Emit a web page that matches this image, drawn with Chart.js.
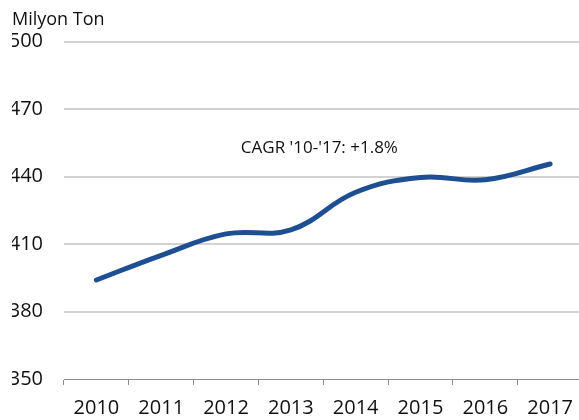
<!DOCTYPE html>
<html>
<head>
<meta charset="utf-8">
<script src="https://cdn.jsdelivr.net/npm/chart.js@4"></script>
<style>
  html, body { margin: 0; padding: 0; background: #fff; overflow: hidden; }
  #wrap { width: 584px; height: 420px; }
</style>
</head>
<body>
<div id="wrap"><canvas id="chart"></canvas></div>
<script>
const years = ['2010', '2011', '2012', '2013', '2014', '2015', '2016', '2017'];
const volumes = [394, 405, 414.5, 416.3, 433, 439.6, 438.6, 445.6];
const yTicks = [350, 380, 410, 440, 470, 500];
const unitLabel = 'Milyon Ton';
const cagrNote = "CAGR '10-'17: +1.8%";

const FONT = 'Open Sans, sans-serif';
const TEXT = '#111111';

const noteLabel = {
    id: 'noteLabel',
    afterDatasetsDraw(chart) {
        const { ctx, scales } = chart;
        ctx.save();
        ctx.font = `17px ${FONT}`;
        ctx.fillStyle = TEXT;
        ctx.textAlign = 'center';
        ctx.textBaseline = 'middle';
        ctx.fillText(cagrNote, scales.x.getPixelForValue(3.44), scales.y.getPixelForValue(452.8));
        ctx.restore();
    }
};

new Chart(document.getElementById('chart'), {
    type: 'line',
    data: {
        labels: years,
        datasets: [{
            data: volumes,
            borderColor: '#1f4f93',
            borderWidth: 5,
            borderCapStyle: 'round',
            tension: 0.4,
            pointRadius: 0,
            fill: false
        }]
    },
    options: {
        responsive: true,
        maintainAspectRatio: false,
        animation: false,
        layout: { padding: { left: 12, right: 0, top: 0, bottom: 0 } },
        plugins: {
            legend: { display: false },
            tooltip: { enabled: false },
            title: {
                display: true,
                text: unitLabel,
                align: 'start',
                color: TEXT,
                font: { family: FONT, size: 18, weight: 'normal' },
                padding: { top: 9, bottom: 11 }
            }
        },
        scales: {
            x: {
                offset: true,
                afterFit: (scale) => { scale.height = 41; },
                grid: {
                    offset: true,
                    drawOnChartArea: false,
                    drawTicks: true,
                    tickLength: 6,
                    color: '#8c8c8c'
                },
                border: { display: true, color: '#8c8c8c', width: 1 },
                ticks: {
                    color: TEXT,
                    font: { family: FONT, size: 20 },
                    padding: 11,
                    maxRotation: 0
                }
            },
            y: {
                min: 350,
                max: 500,
                afterBuildTicks: (scale) => { scale.ticks = yTicks.map(v => ({ value: v })); },
                afterFit: (scale) => { scale.width = 52; },
                grid: {
                    drawTicks: false,
                    lineWidth: 2,
                    color: (c) => c.tick && c.tick.value === 350 ? 'rgba(0,0,0,0)' : '#d2d2d2'
                },
                border: { display: false },
                ticks: {
                    color: TEXT,
                    font: { family: FONT, size: 20 },
                    padding: 21
                }
            }
        }
    },
    plugins: [noteLabel]
});
</script>
</body>
</html>
